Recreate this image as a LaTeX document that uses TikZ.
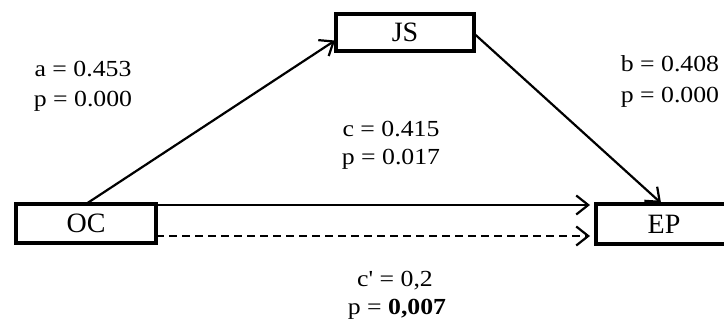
\documentclass[tikz,border=0pt]{standalone}
\usepackage{fontspec}
\setmainfont{Liberation Serif}
\newfontfamily\labfont{Liberation Serif}[FakeStretch=1.12]
\usetikzlibrary{arrows.meta,calc}
\tikzset{
  boxnode/.style={draw, line width=3.8pt, rectangle, inner sep=0pt, outer sep=0pt,
    font=\fontsize{28}{30}\selectfont},
  arr/.style={line width=2.2pt, -{Straight Barb[length=12pt,width=19pt,line width=2.2pt]}},
  lab/.style={anchor=base, inner sep=0pt, font=\labfont\fontsize{23}{30}\selectfont}
}
\begin{document}
\begin{tikzpicture}[x=1pt,y=-1pt]
\useasboundingbox (0,0) rectangle (724,323);
\node[boxnode, minimum width=140pt, minimum height=39pt] (OC) at (86,223.5) {OC};
\node[boxnode, minimum width=138pt, minimum height=37pt] (JS) at (405,32.5) {JS};
\node[boxnode, minimum width=136pt, minimum height=40pt] (EP) at (664,224) {EP};
\draw[arr] (OC.north) -- ($(JS.west)+(-1,8)$);
\draw[arr] ($(JS.east)+(0,1)$) -- ($(EP.north)+(-3,-1)$);
\draw[arr] ($(OC.north east)+(0,1)$) -- ($(EP.north west)+(-6,1)$);
\draw[arr, dash pattern=on 8pt off 5pt] ($(OC.south east)+(0,-7)$) -- ($(EP.south west)+(-6,-8)$);
\node[lab] (a1) at (83,77) {a = 0.453};
\node[lab] (a2) at (83,107) {p = 0.000};
\node[lab] (b1) at (670,72) {b = 0.408};
\node[lab] (b2) at (670,103) {p = 0.000};
\node[lab] (c1) at (391,137) {c = 0.415};
\node[lab] (c2) at (391,165) {p = 0.017};
\node[lab] (d1) at (395,287) {c' = 0,2};
\node[lab] (d2) at (397,315) {p = \textbf{0,007}};
\end{tikzpicture}
\end{document}
